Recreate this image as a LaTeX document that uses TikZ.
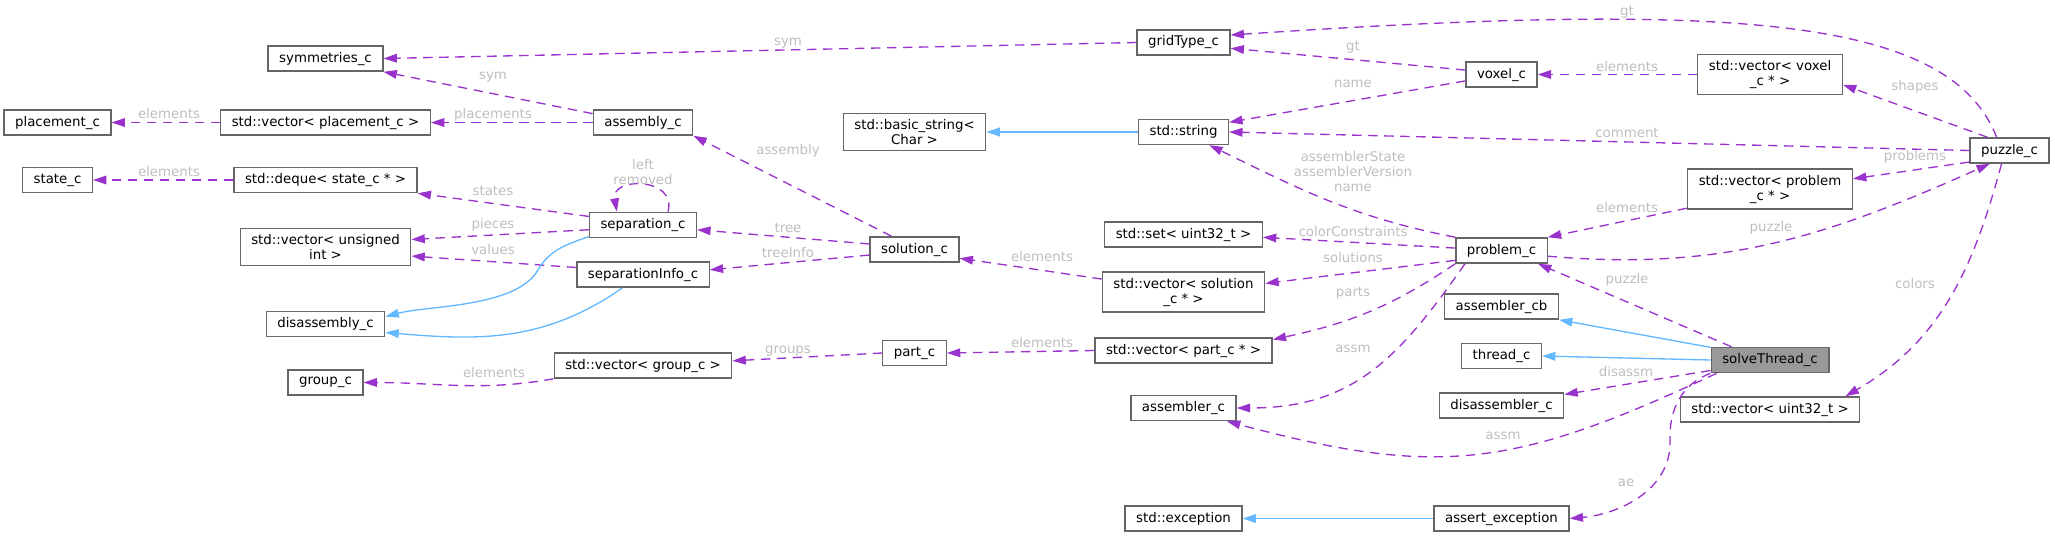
\documentclass[tikz,border=0pt]{standalone}
\usepackage{fontspec}
\setmainfont{DejaVu Sans}
\usepackage{tikz}
\usetikzlibrary{arrows.meta}
\definecolor{Orchid}{HTML}{9A32CD}
\definecolor{Steel}{HTML}{63B8FF}
\definecolor{Border}{HTML}{666666}
\definecolor{RootFill}{HTML}{999999}
\definecolor{LabelGrey}{HTML}{BEBEBE}
\tikzset{
  cls/.style={draw=Border,line width=1pt,fill=white,text=black,align=center,inner xsep=8.3pt,inner ysep=4.5pt,minimum height=18.75pt,font=\fontsize{10}{11.25}\selectfont},
  clsRoot/.style={cls,fill=RootFill},
  lbl/.style={text=LabelGrey,inner sep=0pt,align=center,font=\fontsize{10}{11.25}\selectfont},
  useArrow/.style={-{Triangle[length=10pt,width=6.5pt]},line width=1pt,draw=Orchid,dash pattern=on 7pt off 5pt},
  inhArrow/.style={-{Triangle[length=10pt,width=6.5pt]},line width=1pt,draw=Steel}
}
\begin{document}
\begin{tikzpicture}[x=0.75pt,y=-0.75pt]
  \useasboundingbox (0,0) rectangle (2055,537);

  % Column 1 and 2: element types
  \node[cls] (placement) at (57.5,122.5) {placement\_c};
  \node[cls] (state) at (57.5,180) {state\_c};
  \node[cls] (symmetries) at (325.5,58.5) {symmetries\_c};
  \node[cls] (vecPlacement) at (325.5,122.5) {std::vector< placement\_c >};
  \node[cls] (dequeState) at (325.5,180) {std::deque< state\_c * >};
  \node[cls] (vecUnsigned) at (325.5,247) {std::vector< unsigned\\int >};
  \node[cls] (disassembly) at (325.5,324) {disassembly\_c};
  \node[cls] (group) at (325.5,382.5) {group\_c};

  % Column 3 and 4
  \node[cls] (assembly) at (643,122.5) {assembly\_c};
  \node[cls] (separation) at (643,225) {separation\_c};
  \node[cls] (sepInfo) at (643,274.5) {separationInfo\_c};
  \node[cls] (vecGroup) at (643,365.5) {std::vector< group\_c >};
  \node[cls] (basicString) at (914.5,132) {std::basic\_string<\\Char >};
  \node[cls] (solution) at (914.5,249.5) {solution\_c};
  \node[cls] (part) at (914.5,353) {part\_c};

  % Column 5 and 6
  \node[cls] (gridType) at (1183.5,42.5) {gridType\_c};
  \node[cls] (string) at (1183.5,132) {std::string};
  \node[cls] (setUint) at (1183.5,234.5) {std::set< uint32\_t >};
  \node[cls] (vecSolution) at (1183.5,292) {std::vector< solution\\\_c * >};
  \node[cls] (vecPart) at (1183.5,350.5) {std::vector< part\_c * >};
  \node[cls] (assembler) at (1183.5,408) {assembler\_c};
  \node[cls] (exception) at (1183.5,518.5) {std::exception};
  \node[cls] (voxel) at (1501.5,74.5) {voxel\_c};
  \node[cls] (problem) at (1501.5,250.5) {problem\_c};
  \node[cls] (assemblerCb) at (1501.5,306.5) {assembler\_cb};
  \node[cls] (thread) at (1501.5,356) {thread\_c};
  \node[cls] (disassembler) at (1501.5,405.5) {disassembler\_c};
  \node[cls] (assertExc) at (1501.5,518.5) {assert\_exception};

  % Column 7 and 8
  \node[cls] (vecVoxel) at (1770,74.5) {std::vector< voxel\\\_c * >};
  \node[cls] (vecProblem) at (1770,189) {std::vector< problem\\\_c * >};
  \node[clsRoot] (solveThread) at (1770,360) {solveThread\_c};
  \node[cls] (vecUint) at (1770,409.5) {std::vector< uint32\_t >};
  \node[cls] (puzzle) at (2009.5,150.5) {puzzle\_c};

  % Usage edges (dashed)
  \draw[useArrow] (gridType.west) -- (symmetries.east) node[lbl] at (788,43) {sym};
  \draw[useArrow] (assembly.170) -- (symmetries.south east) node[lbl] at (493,77) {sym};
  \draw[useArrow] (assembly.west) -- (vecPlacement.east) node[lbl] at (493,115) {placements};
  \draw[useArrow] (vecPlacement.west) -- (placement.east) node[lbl] at (169,114) {elements};
  \draw[useArrow] (dequeState.west) -- (state.east) node[lbl] at (169,172) {elements};
  \draw[useArrow] (separation.171) -- (dequeState.south east) node[lbl] at (493,191) {states};
  \draw[useArrow] (separation.28) to[out=75,in=100,looseness=1.8] (separation.153) node[lbl] at (643,172) {left\\removed};
  \draw[useArrow] (separation.185) -- (vecUnsigned.5) node[lbl] at (493,225) {pieces};
  \draw[useArrow] (sepInfo.174) -- (vecUnsigned.354) node[lbl] at (493,250) {values};
  \draw[useArrow] (solution.150) -- (assembly.south east) node[lbl] at (788,151) {assembly};
  \draw[useArrow] (solution.173) -- (separation.355) node[lbl] at (788,228) {tree};
  \draw[useArrow] (solution.187) -- (sepInfo.4) node[lbl] at (788,253) {treeInfo};
  \draw[useArrow] (vecSolution.171) -- (solution.349) node[lbl] at (1042,257) {elements};
  \draw[useArrow] (vecPart.west) -- (part.east) node[lbl] at (1042,343) {elements};
  \draw[useArrow] (part.west) -- (vecGroup.3) node[lbl] at (788,351) {groups};
  \draw[useArrow] (vecGroup.south west) to[out=190,in=0] (group.east) node[lbl] at (494,373) {elements};
  \draw[useArrow] (voxel.173) -- (gridType.353) node[lbl] at (1353,47) {gt};
  \draw[useArrow] (voxel.190) -- (string.12) node[lbl] at (1353,84) {name};
  \draw[useArrow] (puzzle.134) .. controls (1950,20) and (1750,0) .. (gridType.9) node[lbl] at (1627,12) {gt};
  \draw[useArrow] (puzzle.149) -- (vecVoxel.352) node[lbl] at (1915,87) {shapes};
  \draw[useArrow] (vecVoxel.west) -- (voxel.east) node[lbl] at (1627,67) {elements};
  \draw[useArrow] (puzzle.west) -- (string.east) node[lbl] at (1627,133) {comment};
  \draw[useArrow] (puzzle.196) -- (vecProblem.7) node[lbl] at (1915,157) {problems};
  \draw[useArrow] (vecProblem.193) -- (problem.north east) node[lbl] at (1627,208) {elements};
  \draw[useArrow] (problem.353) to[out=-5,in=204] (puzzle.214) node[lbl] at (1771,228) {puzzle};
  \draw[useArrow] (problem.north west) to[out=169,in=-26] (string.333) node[lbl] at (1353,172) {assemblerState\\assemblerVersion\\name};
  \draw[useArrow] (problem.177) -- (setUint.358) node[lbl] at (1353,232) {colorConstraints};
  \draw[useArrow] (problem.192) -- (vecSolution.6) node[lbl] at (1353,258) {solutions};
  \draw[useArrow] (problem.south west) to[out=214,in=12] (vecPart.7) node[lbl] at (1353,293) {parts};
  \draw[useArrow] (problem.200) to[out=235,in=0,looseness=1.1] (assembler.east) node[lbl] at (1353,349) {assm};
  \draw[useArrow] (solveThread.161) -- (problem.340) node[lbl] at (1627,280) {puzzle};
  \draw[useArrow] (solveThread.190) -- (disassembler.10) node[lbl] at (1626,372) {disassm};
  \draw[useArrow] (solveThread.194) to[out=205,in=-15,looseness=1.15] (assembler.343) node[lbl] at (1503,436) {assm};
  \draw[useArrow] (solveThread.south west) to[out=200,in=92] (1670,440) to[out=-88,in=5] (assertExc.east) node[lbl] at (1626,483) {ae};
  \draw[useArrow] (puzzle.239) to[out=255,in=30] (vecUint.10) node[lbl] at (1915,284) {colors};

  % Inheritance edges (solid)
  \draw[inhArrow] (string.west) -- (basicString.east);
  \draw[inhArrow] (separation.192) to[out=200,in=60] (538,270) to[out=240,in=15,looseness=0.7] (disassembly.7);
  \draw[inhArrow] (sepInfo.213) to[out=215,in=-5] (disassembly.352);
  \draw[inhArrow] (solveThread.168) -- (assemblerCb.south east);
  \draw[inhArrow] (solveThread.west) -- (thread.east);
  \draw[inhArrow] (assertExc.west) -- (exception.east);
\end{tikzpicture}
\end{document}
